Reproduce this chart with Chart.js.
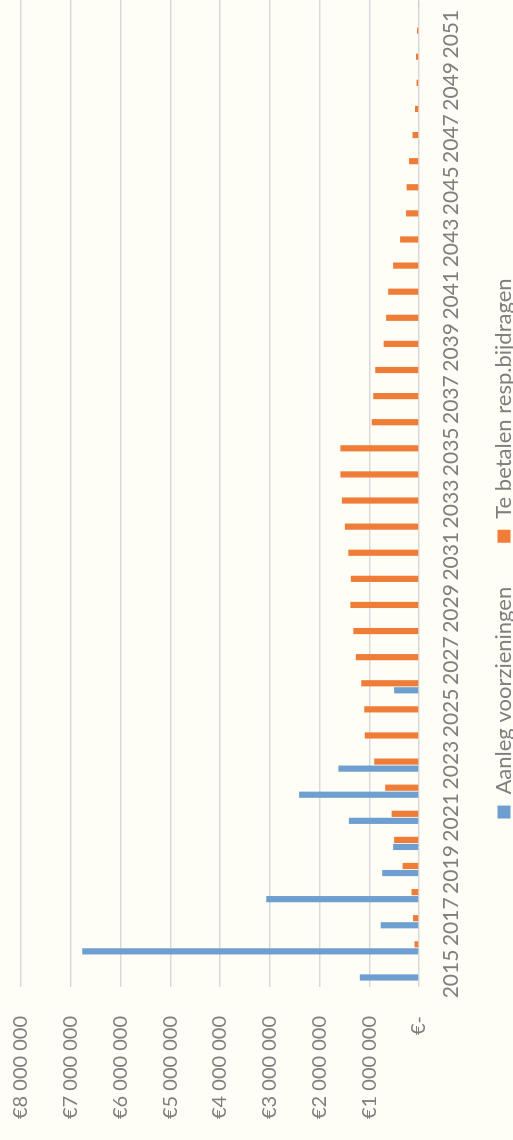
<!DOCTYPE html>
<html lang="nl">
<head>
    <meta charset="UTF-8">
    <title>Aanleg voorzieningen en bijdragen</title>
    <style>
        html, body {
            margin: 0;
            padding: 0;
            width: 513px;
            height: 1140px;
            overflow: hidden;
            background-color: #fffef6;
        }
        /* the chart is drawn lying down and turned a quarter to the left */
        .chart-box {
            position: absolute;
            left: 0;
            top: 0;
            width: 1150px;
            height: 541px;
            transform-origin: 0 0;
            transform: translate(0px, 1140px) rotate(-90deg);
        }
    </style>
</head>
<body>
    <div class="chart-box">
        <canvas id="chart" width="1150" height="541"></canvas>
    </div>

    <script src="https://cdn.jsdelivr.net/npm/chart.js"></script>
    <script>
        const years = [2015, 2016, 2017, 2018, 2019, 2020, 2021, 2022, 2023, 2024,
                       2025, 2026, 2027, 2028, 2029, 2030, 2031, 2032, 2033, 2034,
                       2035, 2036, 2037, 2038, 2039, 2040, 2041, 2042, 2043, 2044,
                       2045, 2046, 2047, 2048, 2049, 2050, 2051, 2052];

        const aanleg = [1190000, 6770000, 770000, 3070000, 740000, 520000, 1410000, 2410000, 1620000, null,
                        null, 500000, null, null, null, null, null, null, null, null,
                        null, null, null, null, null, null, null, null, null, null,
                        null, null, null, null, null, null, null, null];

        const bijdragen = [15000, 90000, 120000, 150000, 330000, 500000, 550000, 680000, 900000, 1090000,
                           1100000, 1160000, 1270000, 1320000, 1380000, 1370000, 1420000, 1490000, 1550000, 1580000,
                           1580000, 950000, 920000, 880000, 710000, 660000, 620000, 520000, 380000, 260000,
                           250000, 200000, 130000, 80000, 50000, 60000, 40000, 20000];

        const seriesNames = ['Aanleg voorzieningen', 'Te betalen resp.bijdragen'];

        const valueTicks = ['€-', '€1 000 000', '€2 000 000', '€3 000 000', '€4 000 000',
                            '€5 000 000', '€6 000 000', '€7 000 000', '€8 000 000'];

        Chart.defaults.font.family = 'Lato, "Liberation Sans", sans-serif';
        Chart.defaults.font.size = 22;
        Chart.defaults.color = '#7f7f7f';

        // move the legend to where it sits in the original
        const legendShift = {
            id: 'legendShift',
            afterLayout(chart) {
                const dx = 19, dy = -16;
                chart.legend.left += dx;
                chart.legend.right += dx;
                chart.legend.top += dy;
                chart.legend.bottom += dy;
            }
        };

        const ctx = document.getElementById('chart').getContext('2d');
        new Chart(ctx, {
            type: 'bar',
            data: {
                labels: years,
                datasets: [{
                    label: seriesNames[0],
                    data: aanleg,
                    backgroundColor: '#6f9fd0',
                    categoryPercentage: 0.54,
                    barPercentage: 0.88
                }, {
                    label: seriesNames[1],
                    data: bijdragen,
                    backgroundColor: '#ef7d38',
                    categoryPercentage: 0.54,
                    barPercentage: 0.88
                }]
            },
            options: {
                responsive: false,
                animation: false,
                layout: {
                    padding: { left: 0, right: 5, top: 0, bottom: 0 }
                },
                plugins: {
                    tooltip: { enabled: false },
                    legend: {
                        position: 'bottom',
                        labels: {
                            boxWidth: 13,
                            boxHeight: 13,
                            padding: 44
                        }
                    }
                },
                scales: {
                    x: {
                        grid: { display: false },
                        border: { display: false },
                        ticks: {
                            autoSkip: false,
                            maxRotation: 0,
                            padding: 12,
                            font: { size: 21 },
                            callback: function(value, index) {
                                return index % 2 === 0 ? years[index] : '';
                            }
                        },
                        afterFit: function(scale) {
                            scale.height = 46;
                        }
                    },
                    y: {
                        min: 0,
                        max: 8000000,
                        grid: {
                            color: '#d9d9d9',
                            lineWidth: 1.5,
                            drawTicks: false
                        },
                        border: { display: false },
                        ticks: {
                            stepSize: 1000000,
                            padding: 29,
                            font: { size: 20 },
                            callback: function(value) {
                                return valueTicks[Math.round(value / 1000000)];
                            }
                        },
                        afterFit: function(scale) {
                            scale.width = 153;
                            // tick padding must not push the plot down
                            scale.paddingTop = 21;
                            scale.paddingBottom = 0;
                        }
                    }
                }
            },
            plugins: [legendShift]
        });
    </script>
</body>
</html>
